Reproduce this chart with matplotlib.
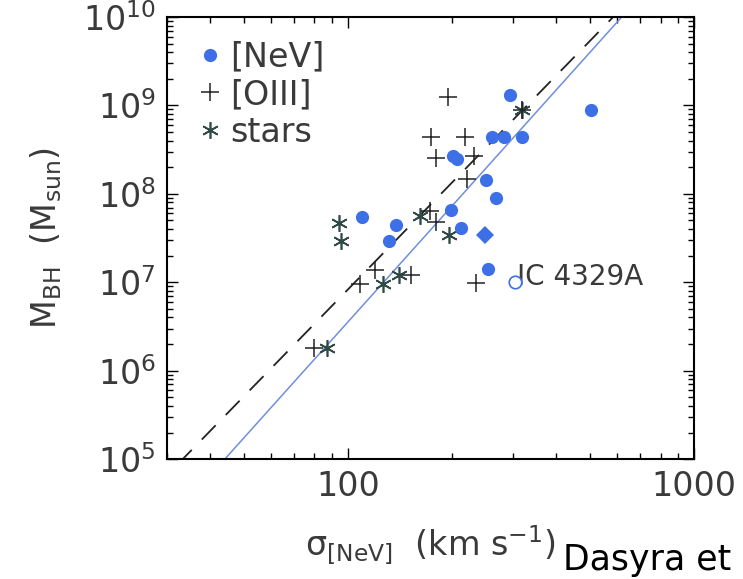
"""
M_BH - sigma relation from [NeV], [OIII] and stellar velocity dispersions.
"""

import numpy as np
import matplotlib.pyplot as plt
from matplotlib.ticker import LogLocator, NullFormatter, FuncFormatter

# [NeV] dispersions (filled blue circles)
nev_sigma = [110, 138, 131, 199, 212, 251, 268, 253, 293, 503, 261, 283, 319, 201, 207]
nev_mbh = [5.5e7, 4.5e7, 2.9e7, 6.6e7, 4.1e7, 1.45e8, 9.0e7, 1.4e7, 1.3e9, 8.8e8,
           4.45e8, 4.45e8, 4.45e8, 2.7e8, 2.5e8]

# special [NeV] objects
diamond_sigma = [248]
diamond_mbh = [3.4e7]
ic4329_sigma = [303]
ic4329_mbh = [1.0e7]

# [OIII] dispersions (crosses)
oiii_sigma = [195, 174, 218, 179, 232, 220, 319, 172, 180, 120, 108, 152, 235, 80]
oiii_mbh = [1.26e9, 4.45e8, 4.45e8, 2.57e8, 2.7e8, 1.48e8, 8.8e8, 6.4e7, 4.8e7,
            1.37e7, 9.5e6, 1.2e7, 9.8e6, 1.8e6]

# stellar dispersions (asterisks)
star_sigma = [94, 95.4, 161, 196, 126, 140, 87, 319]
star_mbh = [4.7e7, 2.9e7, 5.6e7, 3.4e7, 9.5e6, 1.2e7, 1.8e6, 8.8e8]

# relations: log M = a + b log(sigma / 200)
fit_nev = (7.865, 4.36)
fit_tremaine = (8.13, 4.02)

BLUE = '#3d6fe6'
STAR_COL = '#2f4a45'
TXT = '#3a3a3a'

plt.rcParams['mathtext.fontset'] = 'dejavusans'

fig = plt.figure(figsize=(7.43, 5.79), dpi=100)
ax = fig.add_axes([0.2248, 0.207, 0.7094, 0.7636])

s = np.logspace(np.log10(20), np.log10(1200), 200)
ax.plot(s, 10 ** (fit_nev[0] + fit_nev[1] * np.log10(s / 200.)), '-',
        color='#6f8fdd', lw=1.1, zorder=2)
ax.plot(s, 10 ** (fit_tremaine[0] + fit_tremaine[1] * np.log10(s / 200.)),
        color='#222222', lw=1.3, dashes=(11, 8), zorder=2)

ax.plot(star_sigma, star_mbh, ls='none', marker=(6, 2, 0), ms=12, mew=1.2,
        color=STAR_COL, zorder=3)
ax.plot(oiii_sigma, oiii_mbh, ls='none', marker='+', ms=13, mew=1.1,
        color='#222222', zorder=3)
ax.plot(nev_sigma, nev_mbh, ls='none', marker='o', ms=9.5, mew=0,
        color=BLUE, zorder=4)
ax.plot(diamond_sigma, diamond_mbh, ls='none', marker='D', ms=9, mew=0,
        color=BLUE, zorder=4)
ax.plot(ic4329_sigma, ic4329_mbh, ls='none', marker='o', ms=9, mew=1.2,
        mfc='white', mec=BLUE, zorder=4)
ax.text(ic4329_sigma[0] * 1.015, ic4329_mbh[0] * 1.15, 'IC 4329A',
        fontsize=20, color=TXT, ha='left', va='center')

ax.set_xscale('log')
ax.set_yscale('log')
ax.set_xlim(30, 1000)
ax.set_ylim(1e5, 1e10)

ax.xaxis.set_major_formatter(FuncFormatter(lambda v, p: '%d' % v))
ax.xaxis.set_minor_locator(LogLocator(base=10, subs=np.arange(2, 10)))
ax.xaxis.set_minor_formatter(NullFormatter())
ax.yaxis.set_major_locator(LogLocator(base=10, numticks=10))
ax.yaxis.set_minor_locator(LogLocator(base=10, subs=np.arange(2, 10), numticks=20))
ax.yaxis.set_minor_formatter(NullFormatter())

ax.tick_params(which='both', direction='in', top=True, right=True,
               labelsize=24, labelcolor=TXT, width=1.0)
ax.tick_params(which='major', length=8, pad=8)
ax.tick_params(which='minor', length=4)
for sp in ax.spines.values():
    sp.set_linewidth(1.5)

ax.set_xlabel('σ$_{\\rm [NeV]}$  (km s$^{-1}$)', fontsize=24, color=TXT, labelpad=14)
ax.set_ylabel(r'M$_{\rm BH}$  (M$_{\rm sun}$)', fontsize=24, color=TXT, labelpad=14)

h1, = ax.plot([], [], ls='none', marker='o', ms=9.5, mew=0, color=BLUE)
h2, = ax.plot([], [], ls='none', marker='+', ms=13, mew=1.1, color='#222222')
h3, = ax.plot([], [], ls='none', marker=(6, 2, 0), ms=12, mew=1.2, color=STAR_COL)
leg = ax.legend([h1, h2, h3], ['[NeV]', '[OIII]', 'stars'], loc='upper left',
                frameon=False, fontsize=24, handlelength=1.2, handletextpad=0.0,
                labelspacing=0.14, borderaxespad=0.5, borderpad=0.2)
for t in leg.get_texts():
    t.set_color(TXT)

fig.text(0.758, 0.032, 'Dasyra et', fontsize=25, color='black',
         ha='left', va='center', family='DejaVu Sans')

fig.savefig('out.png', dpi=100)
